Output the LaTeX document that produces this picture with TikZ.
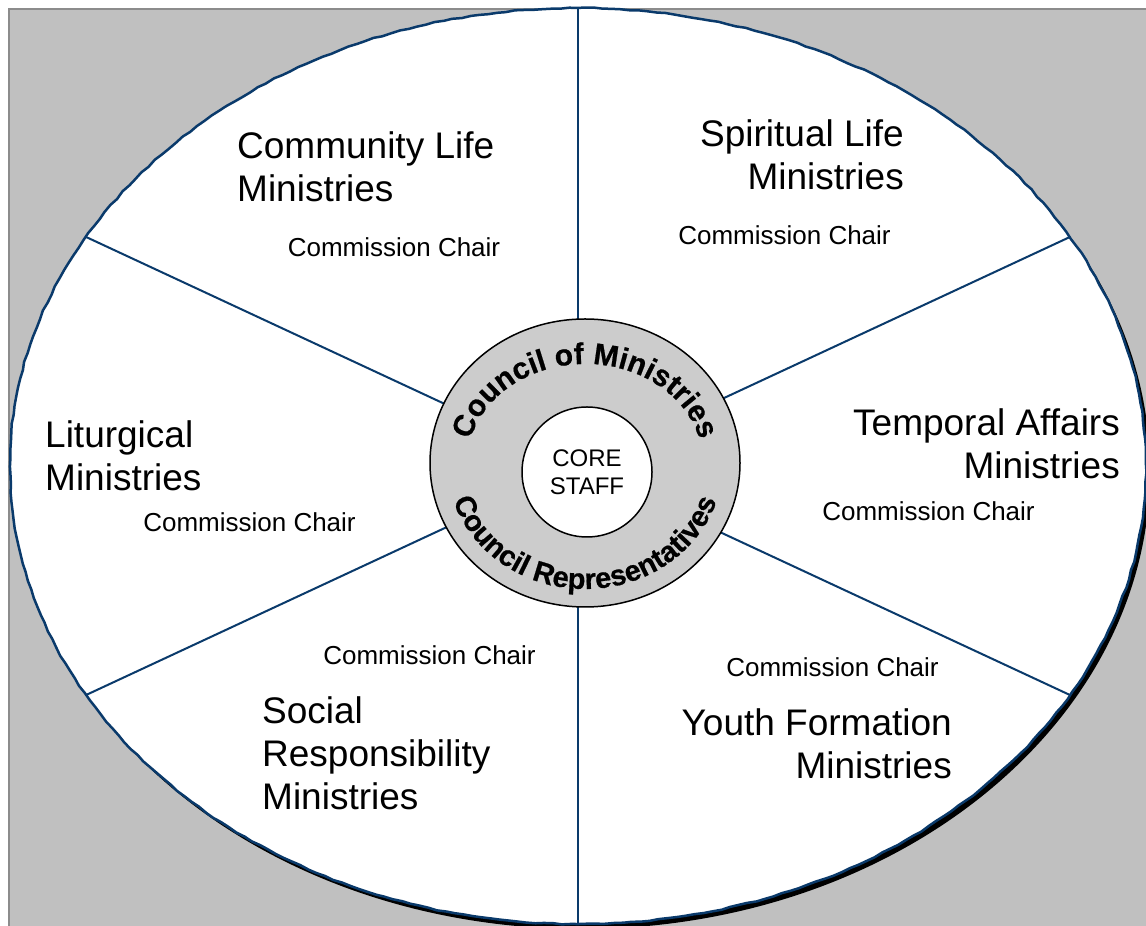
\documentclass[tikz,border=0pt]{standalone}
\usepackage{fontspec}
\setmainfont{Liberation Sans}
\newfontfamily\arcfont{Liberation Sans}[FakeBold=0.6]
\usetikzlibrary{shapes.geometric,decorations.text,decorations.pathmorphing}
\definecolor{navy}{HTML}{0A3A6B}
\definecolor{bggray}{HTML}{C0C0C0}
\definecolor{ringgray}{HTML}{CCCCCC}
\definecolor{edgegray}{HTML}{8C8C8C}
\tikzset{
 spoke/.style={draw=navy, line width=2pt},
 title/.style={inner sep=0pt, font=\fontsize{37}{43}\selectfont},
 chair/.style={inner sep=0pt, font=\fontsize{26}{30}\selectfont},
 arctext/.style={decorate, decoration={text along path, text align=center, text={#1}}},
 wobbly/.style={decorate, decoration={random steps, segment length=9pt, amplitude=0.6pt}},
}
\begin{document}
\begin{tikzpicture}[x=1pt,y=1pt]
\pgfmathsetseed{7}
\useasboundingbox (0,0) rectangle (1146,926);
\fill[white] (0,0) rectangle (1146,926);
\fill[bggray] (8,0) rectangle (1146,918);
\draw[edgegray, line width=2pt] (9,0) -- (9,917) -- (1146,917);
\coordinate (O) at (578,460);
\fill[black] (582,455) ellipse [x radius=568, y radius=458];
\fill[white] (O) ellipse [x radius=568, y radius=458];
\draw[navy, line width=2.5pt, wobbly] (O) ellipse [x radius=568, y radius=458];
\foreach \a in {30,90,150,210,270,330} {
  \path (O) ++(\a:568 and 458) coordinate (s\a);
  \draw[spoke] (O) -- (s\a);
}
\node[ellipse, draw=black, line width=1.5pt, fill=ringgray, minimum width=310pt, minimum height=288pt, inner sep=0pt] (council) at (585,463) {};
\node[circle, draw=black, line width=1.5pt, fill=white, minimum size=130pt, inner sep=0pt, align=center, font=\fontsize{24}{27.5}\selectfont] (core) at (587,454) {CORE\\STAFF};
\path[arctext={|\fontsize{30}{30}\arcfont\bfseries|Council of Ministries}] (585,463) ++(180:118 and 99) arc[start angle=180, end angle=0, x radius=118, y radius=99];
\path[arctext={|\fontsize{29}{29}\arcfont\bfseries|Council Representatives}] (585,463) ++(180:138 and 126) arc[start angle=180, end angle=360, x radius=138, y radius=126];
\node[title, anchor=west, align=left] (community) at (237,759.5) {Community Life\\Ministries};
\node[title, anchor=east, align=right] (spiritual) at (904,771.5) {Spiritual Life\\Ministries};
\node[title, anchor=east, align=right] (temporal) at (1120,482.5) {Temporal Affairs\\Ministries};
\node[title, anchor=west, align=left] (liturgical) at (45,470.5) {Liturgical\\Ministries};
\node[title, anchor=west, align=left] (social) at (262,173) {Social\\Responsibility\\Ministries};
\node[title, anchor=east, align=right] (youth) at (952,182.5) {Youth Formation\\Ministries};
\node[chair] (chair1) at (394,679) {Commission Chair};
\node[chair] (chair2) at (784.5,691) {Commission Chair};
\node[chair] (chair3) at (928.5,415) {Commission Chair};
\node[chair] (chair4) at (249.5,404) {Commission Chair};
\node[chair] (chair5) at (429.5,271) {Commission Chair};
\node[chair] (chair6) at (832.5,259) {Commission Chair};
\end{tikzpicture}
\end{document}
